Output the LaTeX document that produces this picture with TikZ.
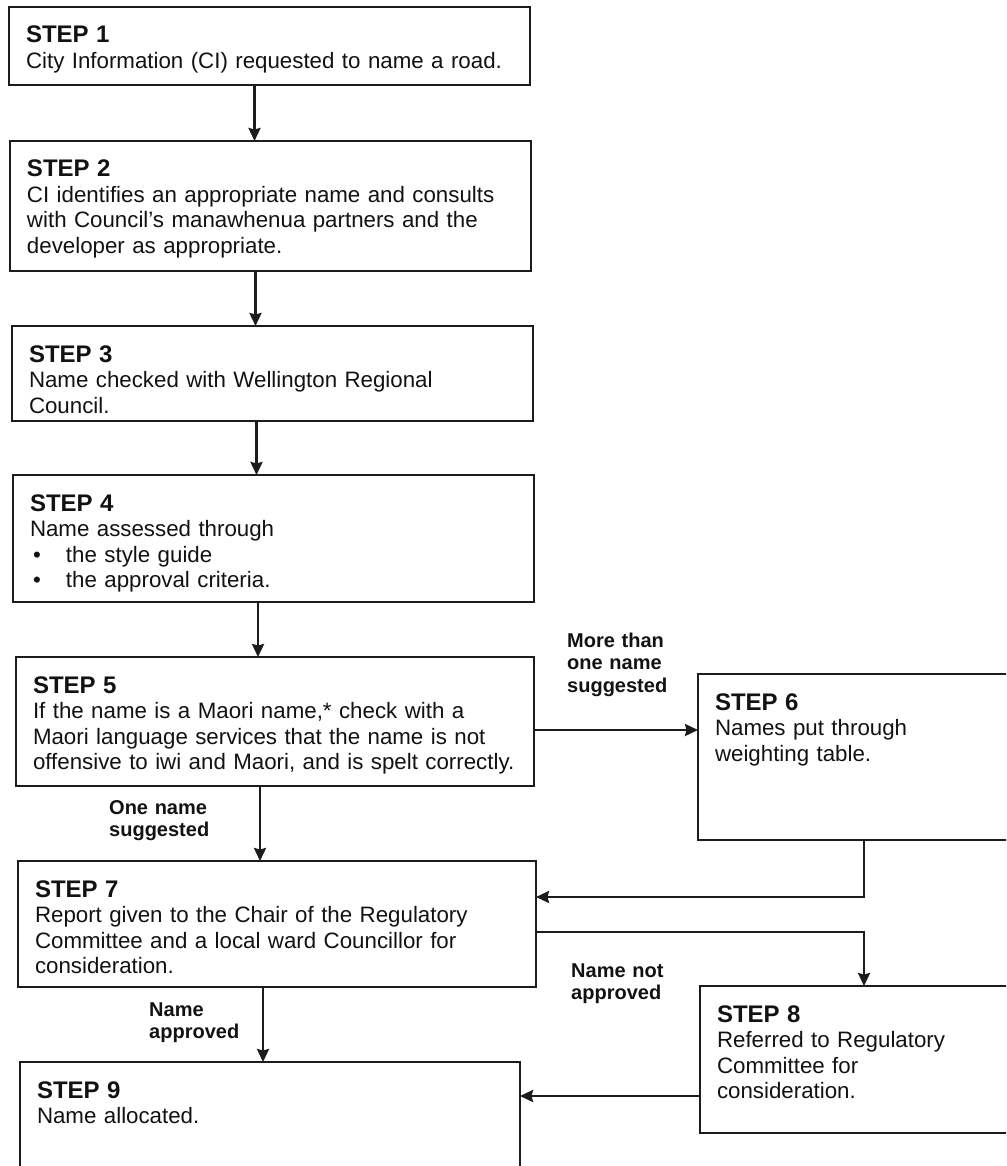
\documentclass[tikz,border=0pt]{standalone}
\usepackage{fontspec}
\setmainfont{Liberation Sans}
\usepackage{tikz}
\usetikzlibrary{arrows.meta,positioning}
\usepackage{xcolor}
\definecolor{stepline}{RGB}{28,28,28}
\definecolor{stepink}{RGB}{18,18,18}
\newcommand{\bodyfont}{\fontsize{22.3}{25.5}\selectfont}
\newcommand{\titlefont}{\fontsize{24}{25.5}\selectfont\bfseries}
\newcommand{\labelfont}{\fontsize{20}{22.5}\selectfont\bfseries}
\newcommand{\steptext}[2]{\begin{tabular}[t]{@{}l@{}}\titlefont #1\\ #2\end{tabular}}
\newcommand{\stepbullet}{\hspace*{3pt}\makebox[33pt][l]{\textbullet}}
\tikzstyle{arrow} = [line width=2.6pt,-{Stealth[length=13pt,width=12pt,inset=1.5pt]},color=stepline]
\tikzstyle{stepbox} = [rectangle, draw=stepline, line width=2.5pt, fill=white, outer sep=0pt, inner xsep=17pt, inner ysep=19pt, text height=17pt, align=left, font=\bodyfont, text=stepink, anchor=north west]
\tikzstyle{branch} = [anchor=base west, inner sep=0pt, text width=140pt, align=left, font=\labelfont, text=stepink]

\begin{document}
\begin{tikzpicture}
\useasboundingbox (0,0) rectangle (1006pt,-1166pt);
\clip (0,0) rectangle (1006pt,-1166pt);
% Main column of steps
\node (box1) [stepbox, text width=487pt, text depth=23pt] at (9pt,-7pt) {\steptext{STEP 1}{City Information (CI) requested to name a road.}};
\node (box2) [stepbox, text width=487pt, text depth=75pt, below=56pt of box1.south west, anchor=north west, xshift=1pt] {\steptext{STEP 2}{CI identifies an appropriate name and consults\\with Council's manawhenua partners and the\\developer as appropriate.}};
\node (box3) [stepbox, text width=487pt, text depth=40pt, below=55pt of box2.south west, anchor=north west, xshift=2pt] {\steptext{STEP 3}{Name checked with Wellington Regional\\Council.}};
\node (box4) [stepbox, text width=487pt, text depth=72pt, below=54pt of box3.south west, anchor=north west, xshift=1pt] {\steptext{STEP 4}{Name assessed through\\\stepbullet the style guide\\\stepbullet the approval criteria.}};
\node (box5) [stepbox, text width=484pt, text depth=74pt, below=55pt of box4.south west, anchor=north west, xshift=3pt] {\steptext{STEP 5}{If the name is a Maori name,* check with a\\Maori language services that the name is not\\offensive to iwi and Maori, and is spelt correctly.}};
\node (box7) [stepbox, text width=484pt, text depth=71pt, below=75pt of box5.south west, anchor=north west, xshift=2pt] {\steptext{STEP 7}{Report given to the Chair of the Regulatory\\Committee and a local ward Councillor for\\consideration.}};
\node (box9) [stepbox, text width=466pt, text depth=73pt, below=75pt of box7.south west, anchor=north west, xshift=2pt] {\steptext{STEP 9}{Name allocated.}};

% Side steps
\node (box6) [stepbox, text width=298pt, text depth=111pt, right=164pt of box5.north east, anchor=north west, yshift=-17pt] {\steptext{STEP 6}{Names put through\\weighting table.}};
\node (box8) [stepbox, text width=294pt, text depth=92pt, right=164pt of box7.north east, anchor=north west, yshift=-125pt] {\steptext{STEP 8}{Referred to Regulatory\\Committee for\\consideration.}};

% Branch labels
\node (more) [branch] at ([shift={(33pt,10pt)}]box5.north east) {More than\\one name\\suggested};
\node (one) [branch] at ([shift={(93pt,-28pt)}]box5.south west) {One name\\suggested};
\node (notok) [branch] at ([shift={(35pt,10pt)}]box7.south east) {Name not\\approved};
\node (ok) [branch] at ([shift={(131pt,-29pt)}]box7.south west) {Name\\approved};

% Connector start points
\coordinate (out1) at ([xshift=-15pt]box1.south);
\coordinate (out2) at ([xshift=-15pt]box2.south);
\coordinate (out3) at ([xshift=-16pt]box3.south);
\coordinate (out4) at ([xshift=-15.5pt]box4.south);
\coordinate (out5) at ([xshift=-15pt]box5.south);
\coordinate (out7) at ([xshift=-14pt]box7.south);
\coordinate (side5) at ([yshift=-8.5pt]box5.east);
\coordinate (side7) at ([yshift=-8pt]box7.east);
\coordinate (side8) at ([yshift=-36.5pt]box8.west);
\coordinate (back7) at ([yshift=27pt]box7.east);

\draw[arrow] (out1) -- (out1 |- box2.north);
\draw[arrow] (out2) -- (out2 |- box3.north);
\draw[arrow] (out3) -- (out3 |- box4.north);
\draw[arrow] (out4) -- (out4 |- box5.north);
\draw[arrow] (out5) -- (out5 |- box7.north);
\draw[arrow] (out7) -- (out7 |- box9.north);
\draw[arrow] (side5) -- (side5 -| box6.west);
\draw[arrow] (box6.south) |- (back7);
\draw[arrow] (side7) -| (box8.north);
\draw[arrow] (side8) -- (side8 -| box9.east);
\end{tikzpicture}
\end{document}
